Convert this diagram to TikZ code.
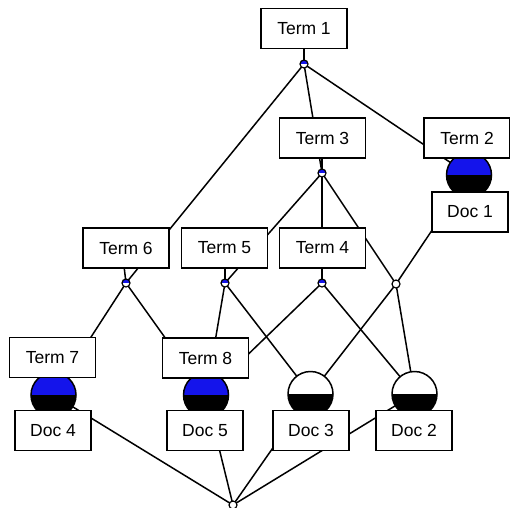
\documentclass[tikz,border=0pt]{standalone}
\usepackage{fontspec}
\setmainfont{Liberation Sans}
\begin{document}
\begin{tikzpicture}[x=1pt,y=-1pt,
  edge/.style={line width=1.5pt},
  lbl/.style={draw, fill=white, line width=1.5pt, minimum width=86pt, minimum height=40pt, inner sep=0pt,
    font=\fontsize{17.5}{20}\selectfont},
  doclbl/.style={lbl, minimum width=76pt},
  conc/.style={circle, draw, fill=white, inner sep=0pt, line width=1.2pt},
  small/.style={conc, minimum size=8pt},
  big/.style={conc, minimum size=45pt, line width=1.5pt},
  tb/.style={path picture={\fill[cblue] (path picture bounding box.west) rectangle (path picture bounding box.north east);}},
  bb/.style={path picture={\fill[black] (path picture bounding box.west) rectangle (path picture bounding box.south east);}},
  tbb/.style={path picture={\fill[cblue] (path picture bounding box.west) rectangle (path picture bounding box.north east);
     \fill[black] (path picture bounding box.west) rectangle (path picture bounding box.south east);}}
]
\definecolor{cblue}{RGB}{20,20,235}
\useasboundingbox (0,0) rectangle (510,507);
\begin{scope}
\clip (0,0) rectangle (510,507);
% concept node positions
\coordinate (c1) at (304,64);
\coordinate (c3) at (322,173);
\coordinate (c2) at (469,175);
\coordinate (c6) at (126,283);
\coordinate (c5) at (225,283);
\coordinate (c4) at (322,283);
\coordinate (cu) at (396,284);
\coordinate (c7) at (53.5,395);
\coordinate (c8) at (206,395);
\coordinate (d3) at (310.5,394);
\coordinate (d2) at (414.5,394);
\coordinate (bot) at (233,505);
% edges
\draw[edge] (c1) -- (c3);
\draw[edge] (c1) -- (c2);
\draw[edge] (c1) -- (c6);
\draw[edge] (c3) -- (c5);
\draw[edge] (c3) -- (c4);
\draw[edge] (c3) -- (cu);
\draw[edge] (c2) -- (cu);
\draw[edge] (c6) -- (c7);
\draw[edge] (c6) -- (c8);
\draw[edge] (c5) -- (c8);
\draw[edge] (c5) -- (d3);
\draw[edge] (c4) -- (c8);
\draw[edge] (c4) -- (d2);
\draw[edge] (cu) -- (d3);
\draw[edge] (cu) -- (d2);
\draw[edge] (bot) -- (c7);
\draw[edge] (bot) -- (c8);
\draw[edge] (bot) -- (d3);
\draw[edge] (bot) -- (d2);
% label ticks
\draw[edge] (c1) -- (304,46);
\draw[edge] (c3) -- (322,155);
\draw[edge] (c6) -- (124,266);
\draw[edge] (c5) -- (225,266);
\draw[edge] (c4) -- (322,266);
% concept nodes on top of edges
\node[small, tb] (n1) at (c1) {};
\node[small, tb] (n3) at (c3) {};
\node[big, tbb] (n2) at (c2) {};
\node[small, tb] (n6) at (c6) {};
\node[small, tb] (n5) at (c5) {};
\node[small, tb] (n4) at (c4) {};
\node[small] (nu) at (cu) {};
\node[big, tbb] (n7) at (c7) {};
\node[big, tbb] (n8) at (c8) {};
\node[big, bb] (nd3) at (d3) {};
\node[big, bb] (nd2) at (d2) {};
\node[small] (nbot) at (bot) {};
% labels
\node[lbl] (t1) at (304,28.5) {Term 1};
\node[lbl] (t3) at (322.5,138) {Term 3};
\node[lbl] (t2) at (467,138) {Term 2};
\node[doclbl] (doc1) at (470,212) {Doc 1};
\node[lbl] (t6) at (126,248) {Term 6};
\node[lbl] (t5) at (224.5,248) {Term 5};
\node[lbl] (t4) at (322.5,248) {Term 4};
\node[lbl] (t7) at (52.5,357.5) {Term 7};
\node[lbl] (t8) at (205.5,358) {Term 8};
\node[doclbl] (doc4) at (53,430.5) {Doc 4};
\node[doclbl] (doc5) at (205,430.5) {Doc 5};
\node[doclbl] (doc3) at (311,430.5) {Doc 3};
\node[doclbl] (doc2) at (414,430.5) {Doc 2};
\end{scope}
\end{tikzpicture}
\end{document}
